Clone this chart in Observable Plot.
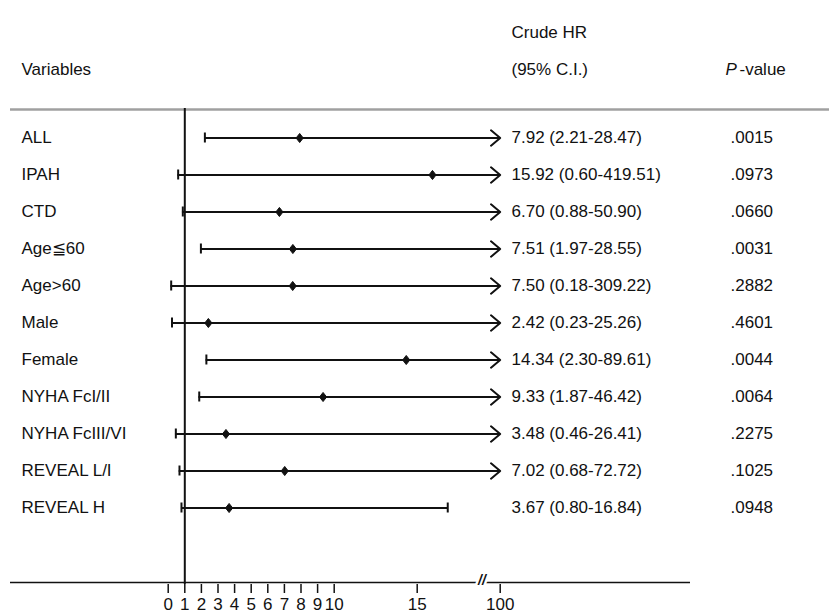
<!DOCTYPE html>
<html>
<head>
<meta charset="utf-8">
<script src="https://cdn.jsdelivr.net/npm/d3@7"></script>
<script src="https://cdn.jsdelivr.net/npm/@observablehq/plot@0.6"></script>
<style>
  html, body { margin: 0; padding: 0; background: #fff; }
  #chart svg { display: block; }
</style>
</head>
<body>
<div id="chart"></div>
<script>
// ---- data ----
const variables = ["ALL", "IPAH", "CTD", "Age≦60", "Age>60", "Male", "Female", "NYHA FcI/II", "NYHA FcIII/VI", "REVEAL L/I", "REVEAL H"];
const hr    = [7.92, 15.92, 6.70, 7.51, 7.50, 2.42, 14.34, 9.33, 3.48, 7.02, 3.67];
const lower = [2.21, 0.60, 0.88, 1.97, 0.18, 0.23, 2.30, 1.87, 0.46, 0.68, 0.80];
const upper = [28.47, 419.51, 50.90, 28.55, 309.22, 25.26, 89.61, 46.42, 26.41, 72.72, 16.84];
const pValues = [".0015", ".0973", ".0660", ".0031", ".2882", ".4601", ".0044", ".0064", ".2275", ".1025", ".0948"];
const tickValues = [0, 1, 2, 3, 4, 5, 6, 7, 8, 9, 10, 15, 20];
const tickLabels = ["0", "1", "2", "3", "4", "5", "6", "7", "8", "9", "10", "15", "100"];
const axisMax = 20;      // position of the "100" tick (axis end)
const breakAt = [18.9];  // axis break "//"
const refLine = [1];

const rows = variables.map((name, i) => ({
  name, hr: hr[i], lo: lower[i], hi: upper[i], p: pValues[i],
  ci: `${hr[i].toFixed(2)} (${lower[i].toFixed(2)}-${upper[i].toFixed(2)})`,
  hiShown: Math.min(upper[i], axisMax)
}));
const arrows = rows.filter(d => d.hi > axisMax);
const capped = rows.filter(d => d.hi <= axisMax);

const ink = "#111";
const font = 17;

// slightly wide filled diamond
const wideDiamond = {
  draw(context, size) {
    const s = Math.sqrt(size);
    const h = s * 0.92, w = s * 0.72;
    context.moveTo(0, -h);
    context.lineTo(w, 0);
    context.lineTo(0, h);
    context.lineTo(-w, 0);
    context.closePath();
  }
};

const chart = Plot.plot({
  width: 829,
  height: 616,
  marginLeft: 10,
  marginRight: 0,
  marginTop: 108,
  marginBottom: 32,
  style: {fontFamily: "'Liberation Sans', Arial, sans-serif", fontSize: font + "px", color: ink, background: "#fff"},
  x: {domain: [0, axisMax], range: [167.7, 499.7]},
  y: {type: "band", domain: variables, range: [117.85, 528.15], padding: 0, axis: null},
  marks: [
    // header separator line
    Plot.ruleY([variables[0]], {y: d => d, dy: -28.5, stroke: "#a0a0a0", strokeWidth: 2.5}),
    // bottom axis line
    Plot.ruleY([variables[variables.length - 1]], {y: d => d, dy: 74.5, insetRight: 139, stroke: ink, strokeWidth: 1.5}),
    // axis break
    Plot.text(breakAt, {x: d => d, frameAnchor: "bottom", text: () => "//", fontSize: 14, fontWeight: "bold", fontStyle: "italic", fill: ink, stroke: "#fff", strokeWidth: 5, paintOrder: "stroke"}),
    // axis ticks and labels
    Plot.axisX({ticks: tickValues, tickFormat: d => tickLabels[tickValues.indexOf(d)], tickSize: 9, tickPadding: 4, fontSize: font, stroke: ink, strokeWidth: 1.5, fill: ink, label: null}),
    // reference line at HR = 1
    Plot.ruleX(refLine, {stroke: ink, strokeWidth: 2}),
    // CI bars with caps
    Plot.ruleY(capped, {y: "name", x1: "lo", x2: "hiShown", stroke: ink, strokeWidth: 2}),
    Plot.tickX(capped, {y: "name", x: "hiShown", stroke: ink, strokeWidth: 2, insetTop: 13.5, insetBottom: 13.5}),
    // CI bars running off the axis
    Plot.arrow(arrows, {y1: "name", y2: "name", x1: "lo", x2: "hiShown", stroke: ink, strokeWidth: 2, headLength: 9, headAngle: 80}),
    Plot.tickX(rows, {y: "name", x: "lo", stroke: ink, strokeWidth: 2, insetTop: 13.5, insetBottom: 13.5}),
    // point estimates
    Plot.dot(rows, {y: "name", x: "hr", symbol: wideDiamond, r: 2.8, fill: ink, stroke: ink, strokeWidth: 1}),
    // row texts
    Plot.text(rows, {y: "name", text: "name", frameAnchor: "left", dx: 11, textAnchor: "start", fill: ink}),
    Plot.text(rows, {y: "name", text: "ci", frameAnchor: "left", dx: 501, textAnchor: "start", fill: ink}),
    Plot.text(rows, {y: "name", text: "p", frameAnchor: "left", dx: 720, textAnchor: "start", fill: ink}),
    // header texts
    Plot.text(["Variables"], {text: d => d, frameAnchor: "top-left", dx: 11, dy: -46, textAnchor: "start", fill: ink}),
    Plot.text(["Crude HR"], {text: d => d, frameAnchor: "top-left", dx: 501, dy: -83, textAnchor: "start", fill: ink}),
    Plot.text(["(95% C.I.)"], {text: d => d, frameAnchor: "top-left", dx: 501, dy: -46, textAnchor: "start", fill: ink}),
    Plot.text(["P"], {text: d => d, frameAnchor: "top-left", dx: 715, dy: -46, textAnchor: "start", fontStyle: "italic", fill: ink}),
    Plot.text(["-value"], {text: d => d, frameAnchor: "top-left", dx: 729, dy: -46, textAnchor: "start", fill: ink})
  ]
});
document.getElementById("chart").appendChild(chart);
</script>
</body>
</html>
